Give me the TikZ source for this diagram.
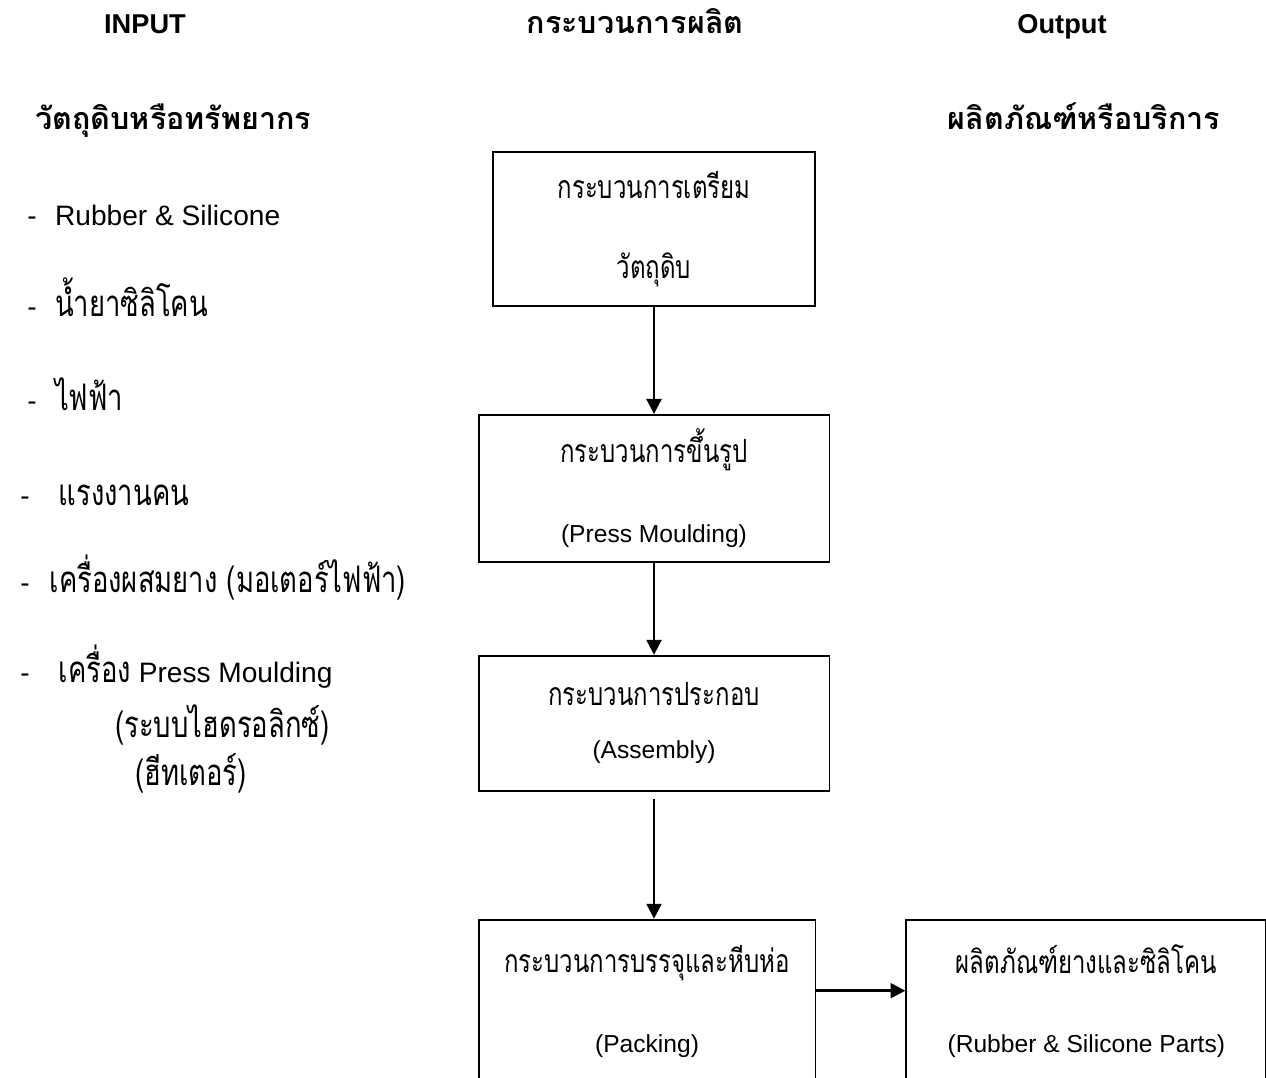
\documentclass[tikz,border=0pt]{standalone}
\usepackage{fontspec}
\setmainfont{Liberation Sans}
\newfontfamily\thai[Script=Thai,Scale=1.3,FakeStretch=0.75]{Loma}
\newfontfamily\thaibold[Script=Thai,Scale=1.12]{Loma}
\usetikzlibrary{arrows.meta,positioning}
\tikzset{
    %Define standard arrow tip
    >={Triangle[width=8.5pt,length=8.5pt]},
    %Define style for boxes
    box/.style={
           rectangle,
           draw=black, line width=1.1pt,
           align=center,
           inner sep=0pt,
           font=\fontsize{14}{45.5}\selectfont},
    %Define style for headings
    head/.style={
           anchor=base,
           inner sep=0pt,
           font=\bfseries\fontsize{15.5}{18}\selectfont},
    %Define style for the input list
    listitem/.style={
           anchor=base west,
           inner sep=0pt,
           font=\fontsize{16}{18}\selectfont},
    % Define arrow style
    imply/.style={
           ->,
           line width=1.4pt}
}

\begin{document}
\begin{tikzpicture}[x=0.02cm, y=-0.02cm]
    \useasboundingbox (0,0) rectangle (1266,1077);
    \clip (0,0) rectangle (1266,1077);
 %headings
    \node[head] (input) at (145,34) {INPUT};
    \node[head] (process) at (635,34) {\thaibold กระบวนการผลิต};
    \node[head] (output) at (1062,34) {Output};
    \node[head, anchor=base west] (resource) at (35,130) {\thaibold วัตถุดิบหรือทรัพยากร};
    \node[head] (product) at (1084,130) {\thaibold ผลิตภัณฑ์หรือบริการ};
 %input list
    \node[listitem] (rubber) at (27,226) {-\hspace{0.37cm}Rubber \& Silicone};
    \node[listitem] (liquid) at (27,317) {-\hspace{0.37cm}{\thai น้ำยาซิลิโคน}};
    \node[listitem] (power) at (27,410) {-\hspace{0.37cm}{\thai ไฟฟ้า}};
    \node[listitem] (labour) at (20,505) {-\hspace{0.58cm}{\thai แรงงานคน}};
    \node[listitem] (mixer) at (20,592) {-\hspace{0.4cm}{\thai เครื่องผสมยาง (มอเตอร์ไฟฟ้า)}};
    \node[listitem] (press) at (20,682) {-\hspace{0.58cm}{\thai เครื่อง} Press Moulding};
    \node[listitem] (hydraulic) at (115,737) {{\thai (ระบบไฮดรอลิกซ์)}};
    \node[listitem] (heater) at (135,785) {{\thai (ฮีทเตอร์)}};
 %process boxes
    \node[box, minimum width=6.44cm, minimum height=3.08cm] (prep) at (654,229)
        {\thai กระบวนการเตรียม\\\thai วัตถุดิบ};
    \node[box, minimum width=7.02cm, minimum height=2.94cm, below=2.14cm of prep] (mould)
        {\thai กระบวนการขึ้นรูป\\(Press Moulding)};
    \node[box, minimum width=7.02cm, minimum height=2.7cm, below=1.84cm of mould,
        font=\fontsize{14}{30}\selectfont] (assembly)
        {\thai กระบวนการประกอบ\\(Assembly)};
    \node[box, minimum width=6.74cm, minimum height=3.26cm, below=2.54cm of assembly,
        xshift=-0.14cm] (packing)
        {\thai กระบวนการบรรจุและหีบห่อ\\(Packing)};
    \node[box, minimum width=7.2cm, minimum height=3.26cm, right=1.78cm of packing] (parts)
        {\thai ผลิตภัณฑ์ยางและซิลิโคน\\(Rubber \& Silicone Parts)};
 %edges
    \draw[imply] (prep) -- (mould);
    \draw[imply] (mould) -- (assembly);
    \draw[imply, shorten <=0.14cm] (assembly.south) -- (assembly.south |- packing.north);
    \draw[imply] ([yshift=-1.44cm]packing.north east) -- ([yshift=-1.44cm]parts.north west);
\end{tikzpicture}
\end{document}
